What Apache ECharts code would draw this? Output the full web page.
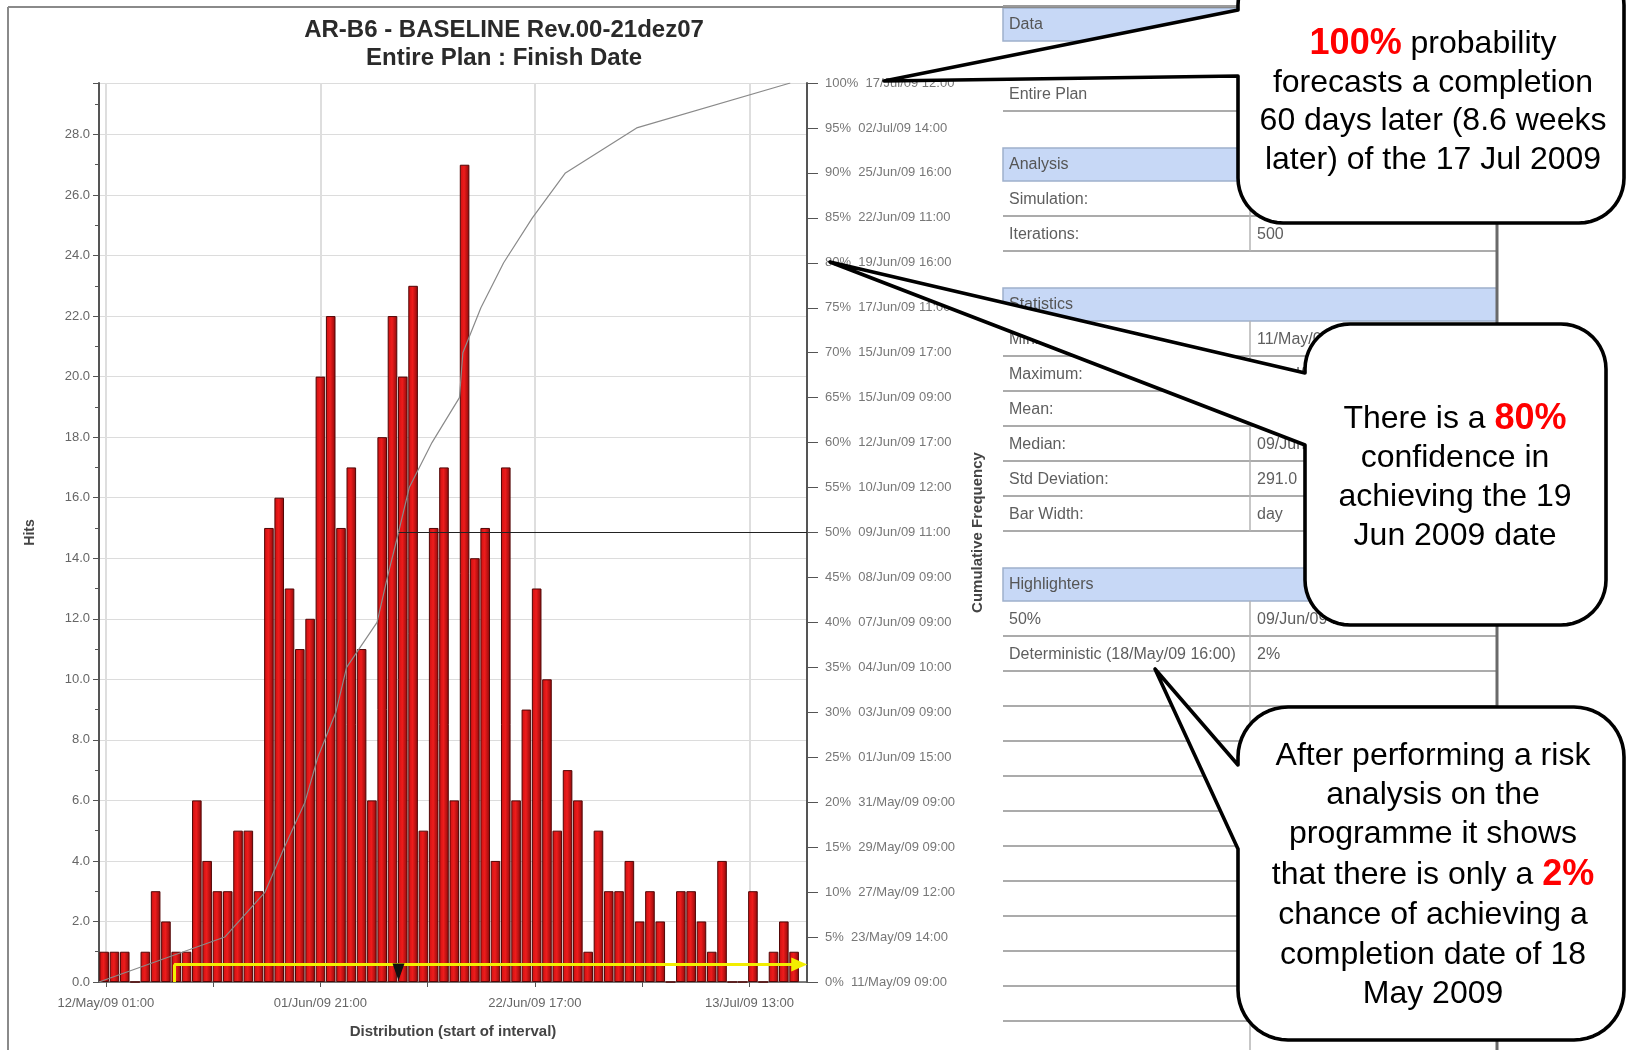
<!DOCTYPE html>
<html>
<head>
<meta charset="utf-8">
<title>AR-B6 - BASELINE Rev.00-21dez07</title>
<script src="https://cdn.jsdelivr.net/npm/echarts@6/dist/echarts.min.js"></script>
<style>
  html, body { margin: 0; padding: 0; background: #fff; }
  #chart { width: 1627px; height: 1050px; }
</style>
</head>
<body>
<div id="chart"></div>
<script>
// histogram bins: one day each, first bin starts at the minimum finish
var binStart = '2009-05-11T09:00';
var binHours = 24;
var hits = [1, 1, 1, 0, 1, 3, 2, 1, 1, 6, 4, 3, 3, 5, 5, 3, 15, 16, 13, 11, 12, 20, 22, 15, 17, 11, 6,
            18, 22, 20, 23, 5, 15, 17, 6, 27, 14, 15, 4, 17, 6, 9, 13, 10, 5, 7, 6, 1, 5, 3, 3, 4, 2, 3, 2,
            0, 3, 3, 2, 1, 4, 0, 0, 3, 0, 1, 2, 1];

// cumulative frequency (right axis)
var cumPct = [0, 5, 10, 15, 20, 25, 30, 35, 40, 45, 50, 55, 60, 65, 70, 75, 80, 85, 90, 95, 100];
var cumDates = ['2009-05-11T09:00', '2009-05-23T14:00', '2009-05-27T12:00', '2009-05-29T09:00',
                '2009-05-31T09:00', '2009-06-01T15:00', '2009-06-03T09:00', '2009-06-04T10:00',
                '2009-06-07T09:00', '2009-06-08T09:00', '2009-06-09T11:00', '2009-06-10T12:00',
                '2009-06-12T17:00', '2009-06-15T09:00', '2009-06-15T17:00', '2009-06-17T11:00',
                '2009-06-19T16:00', '2009-06-22T11:00', '2009-06-25T16:00', '2009-07-02T14:00',
                '2009-07-17T12:00'];

// x axis labels
var xLabelDates = ['2009-05-12T01:00', '2009-06-01T21:00', '2009-06-22T17:00', '2009-07-13T13:00'];

// highlighters
var medianDate = '2009-06-09T11:00';
var deterministicDate = '2009-05-18T16:00';

var MONTHS = ['Jan', 'Feb', 'Mar', 'Apr', 'May', 'Jun', 'Jul', 'Aug', 'Sep', 'Oct', 'Nov', 'Dec'];
var FONT = '"Liberation Sans", Arial, sans-serif';

function hoursOf(s) {
    return (Date.parse(s + ':00Z') - Date.parse(binStart + ':00Z')) / 3600000;
}
function fmt(s) {
    var d = new Date(s + ':00Z');
    var dd = ('0' + d.getUTCDate()).slice(-2);
    var hh = ('0' + d.getUTCHours()).slice(-2);
    var mm = ('0' + d.getUTCMinutes()).slice(-2);
    return dd + '/' + MONTHS[d.getUTCMonth()] + '/' + String(d.getUTCFullYear()).slice(-2) + ' ' + hh + ':' + mm;
}

var xLabelHours = xLabelDates.map(hoursOf);
var xTickHours = [];
xLabelHours.forEach(function (h, i) {
    xTickHours.push(h);
    if (i < xLabelHours.length - 1) xTickHours.push((h + xLabelHours[i + 1]) / 2);
});
var xMax = 1650;
var binEnd = hits.length * binHours;
var hMed = hoursOf(medianDate);
var hDet = hoursOf(deterministicDate);

var barData = hits.map(function (v, i) { return [i * binHours + binHours / 2, v]; });
var cumData = cumDates.map(function (d, i) { return [hoursOf(d), cumPct[i]]; });

// ---------- graphics: frame, title, table, callouts ----------
var g = [];
function text(x, y, s, opt) {
    opt = opt || {};
    g.push({
        type: 'text', x: x, y: y, z: opt.z || 20, silent: true,
        style: {
            text: s, fill: opt.color || '#555',
            fontSize: opt.size || 14, fontFamily: opt.family || FONT,
            fontWeight: opt.weight || 'normal',
            align: opt.align || 'left', verticalAlign: 'middle',
            rich: opt.rich
        }
    });
}
function line(x1, y1, x2, y2, color, w, z) {
    g.push({ type: 'line', z: z || 10, silent: true, shape: { x1: x1, y1: y1, x2: x2, y2: y2 },
             style: { stroke: color, lineWidth: w } });
}

// outer frame of the chart panel
line(8, 7, 8, 1050, '#8a8a8a', 2);
line(8, 7, 1245, 7, '#8a8a8a', 2);

// title
text(504, 30, 'AR-B6 - BASELINE Rev.00-21dez07', { size: 24, weight: 'bold', color: '#2a2a2a', align: 'center' });
text(504, 58, 'Entire Plan : Finish Date', { size: 24, weight: 'bold', color: '#2a2a2a', align: 'center' });

// table
var tX0 = 1003, tDiv = 1250, tX1 = 1497, rowTop = 6, rowH = 35;
var tableRows = [
    { head: 'Data' }, { label: '' }, { label: 'Entire Plan' }, { blank: true },
    { head: 'Analysis' }, { label: 'Simulation:' }, { label: 'Iterations:', value: '500' }, { blank: true },
    { head: 'Statistics' }, { label: 'Minimum:', value: '11/May/09 09:00' }, { label: 'Maximum:', value: '17/Jul/09 12:00' },
    { label: 'Mean:' }, { label: 'Median:', value: '09/Jun/09 11:00' }, { label: 'Std Deviation:', value: '291.0' },
    { label: 'Bar Width:', value: 'day' }, { blank: true },
    { head: 'Highlighters' }, { label: '50%', value: '09/Jun/09 11:00' },
    { label: 'Deterministic (18/May/09 16:00)', value: '2%' }
];
while (rowTop + tableRows.length * rowH < 1050) tableRows.push({ label: '' });
line(tX0, rowTop, tX1, rowTop, '#9a9a9a', 2);
tableRows.forEach(function (r, i) {
    var y = rowTop + i * rowH;
    if (r.head) {
        g.push({ type: 'rect', z: 9, silent: true, shape: { x: tX0, y: y + 2, width: tX1 - tX0, height: rowH - 2 },
                 style: { fill: '#c7d8f6', stroke: '#9fb0cc', lineWidth: 1.5 } });
        text(tX0 + 6, y + rowH / 2 + 1, r.head, { color: '#555', size: 16 });
    } else if (!r.blank) {
        line(tX0, y + rowH, tX1, y + rowH, '#ababab', 2);
        if (i > 4) line(tDiv, y, tDiv, y + rowH, '#b5b5b5', 1.5);
        if (r.label) text(tX0 + 6, y + rowH / 2 + 1, r.label, { color: '#5e5e5e', size: 16 });
        if (r.value) text(tDiv + 7, y + rowH / 2 + 1, r.value, { color: '#5e5e5e', size: 16 });
    }
});
line(tX1, rowTop, tX1, 1050, '#6a6a6a', 3);

// callouts
function bubble(x0, y0, x1, y1, r, apex, ya, yb) {
    var pts = [[x0, yb]];
    function arc(cx, cy, a0, a1) {
        for (var k = 0; k <= 12; k++) {
            var a = a0 + (a1 - a0) * k / 12;
            pts.push([cx + r * Math.cos(a), cy + r * Math.sin(a)]);
        }
    }
    arc(x0 + r, y1 - r, Math.PI, Math.PI / 2);
    arc(x1 - r, y1 - r, Math.PI / 2, 0);
    arc(x1 - r, y0 + r, 0, -Math.PI / 2);
    arc(x0 + r, y0 + r, -Math.PI / 2, -Math.PI);
    pts.push([x0, ya]);
    pts.push(apex);
    g.push({ type: 'polygon', z: 100, silent: true, shape: { points: pts },
             style: { fill: '#fff', stroke: '#000', lineWidth: 3.6, lineJoin: 'round' } });
}
var calloutRich = { r: { fill: '#ff0000', fontWeight: 'bold', fontSize: 36, fontFamily: FONT } };
function calloutText(cx, ys, lines) {
    lines.forEach(function (s, i) {
        text(cx, ys[i], s, { size: 32, color: '#000', align: 'center', z: 110, rich: calloutRich });
    });
}
bubble(1238, -40, 1624, 223, 45, [884, 81], 10, 76);
calloutText(1433, [44, 83, 121, 160],
    ['{r|100%} probability', 'forecasts a completion', '60 days later (8.6 weeks', 'later) of the 17 Jul 2009']);
bubble(1305, 324, 1606, 625, 45, [830, 262], 373, 445);
calloutText(1455, [419, 458, 497, 536],
    ['There is a {r|80%}', 'confidence in', 'achieving the 19', 'Jun 2009 date']);
bubble(1238, 707, 1624, 1040, 50, [1155, 669], 765, 849);
calloutText(1433, [756, 795, 834, 875, 915, 955, 994],
    ['After performing a risk', 'analysis on the', 'programme it shows', 'that there is only a {r|2%}',
     'chance of achieving a', 'completion date of 18', 'May 2009']);

// ---------- chart ----------
var chart = echarts.init(document.getElementById('chart'));
var axisGray = '#555';
var option = {
    animation: false,
    backgroundColor: '#fff',
    grid: { left: 99, right: 820, top: 83, bottom: 68 },
    xAxis: {
        type: 'value', min: 0, max: xMax,
        axisLine: { lineStyle: { color: axisGray, width: 1.5 } },
        axisTick: { customValues: xTickHours, length: 5, lineStyle: { color: axisGray } },
        axisLabel: {
            customValues: xLabelHours, color: '#666', fontSize: 13, fontFamily: FONT, margin: 15,
            formatter: function (v) {
                var i = xLabelHours.indexOf(v);
                return i >= 0 ? fmt(xLabelDates[i]) : '';
            }
        },
        splitLine: { show: false },
        name: 'Distribution (start of interval)', nameLocation: 'middle', nameGap: 42,
        nameTextStyle: { color: '#444', fontSize: 15, fontWeight: 'bold', fontFamily: FONT }
    },
    yAxis: [{
        type: 'value', min: 0, max: 29.7, interval: 2,
        axisLine: { show: true, lineStyle: { color: axisGray, width: 2 } },
        axisTick: { show: true, length: 6, lineStyle: { color: axisGray } },
        minorTick: { show: true, splitNumber: 2, length: 4, lineStyle: { color: axisGray } },
        axisLabel: { color: '#666', fontSize: 13, fontFamily: FONT, margin: 9, showMaxLabel: false,
                     formatter: function (v) { return v % 2 === 0 ? v.toFixed(1) : ''; } },
        splitLine: { show: true, lineStyle: { color: '#dcdcdc', width: 1 } },
        name: 'Hits', nameLocation: 'middle', nameRotate: 90, nameGap: 62,
        nameTextStyle: { color: '#444', fontSize: 14, fontWeight: 'bold', fontFamily: FONT }
    }, {
        type: 'value', min: 0, max: 100, interval: 5, position: 'right',
        axisLine: { show: true, lineStyle: { color: axisGray, width: 2 } },
        axisTick: { show: true, length: 11, lineStyle: { color: axisGray } },
        axisLabel: { color: '#777', fontSize: 13, fontFamily: FONT, margin: 18,
                     formatter: function (v) {
                         var i = Math.round(v / 5);
                         return cumDates[i] ? cumPct[i] + '%  ' + fmt(cumDates[i]) : '';
                     } },
        splitLine: { show: false },
        name: 'Cumulative Frequency', nameLocation: 'middle', nameRotate: 90, nameGap: 163,
        nameTextStyle: { color: '#444', fontSize: 15, fontWeight: 'bold', fontFamily: FONT }
    }],
    series: [{
        // vertical grid lines at the labelled dates, behind the bars
        type: 'line', data: [], silent: true,
        markLine: {
            z: 1, silent: true, symbol: 'none', label: { show: false },
            lineStyle: { color: '#dedede', width: 2, type: 'solid' },
            data: xLabelHours.map(function (h) { return { xAxis: h }; })
        }
    }, {
        name: 'Hits', type: 'bar', data: barData, barWidth: 9.6, z: 2,
        itemStyle: {
            color: new echarts.graphic.LinearGradient(0, 0, 1, 0, [
                { offset: 0, color: '#cc1010' }, { offset: 0.45, color: '#ee1c1c' }, { offset: 1, color: '#8c0a0a' }
            ]),
            borderColor: '#520606', borderWidth: 1
        },
        markLine: {
            silent: true, label: { show: false }, z: 6,
            data: [
                [{ coord: [hDet, 0.58], symbol: 'none' },
                 { coord: [binEnd, 0.58], symbol: 'triangle', symbolSize: [14, 16] }],
                [{ coord: [hDet, 0], symbol: 'none' }, { coord: [hDet, 0.58], symbol: 'none' }]
            ],
            lineStyle: { color: '#f2ee00', width: 3, type: 'solid' }
        },
        markPoint: {
            silent: true, z: 7,
            data: [{ coord: [hMed, 0.33], symbol: 'triangle', symbolRotate: 180, symbolSize: [12, 17],
                     itemStyle: { color: '#111' }, label: { show: false } }]
        }
    }, {
        name: 'Cumulative Frequency', type: 'line', yAxisIndex: 1, data: cumData, z: 4,
        showSymbol: false, silent: true,
        lineStyle: { color: '#8a8a8a', width: 1.2 },
        markLine: {
            silent: true, symbol: 'none', label: { show: false },
            lineStyle: { color: '#222', width: 1.2, type: 'solid' },
            data: [[{ coord: [hMed, 50] }, { coord: [xMax, 50] }]]
        }
    }],
    graphic: g
};
chart.setOption(option);
</script>
</body>
</html>
